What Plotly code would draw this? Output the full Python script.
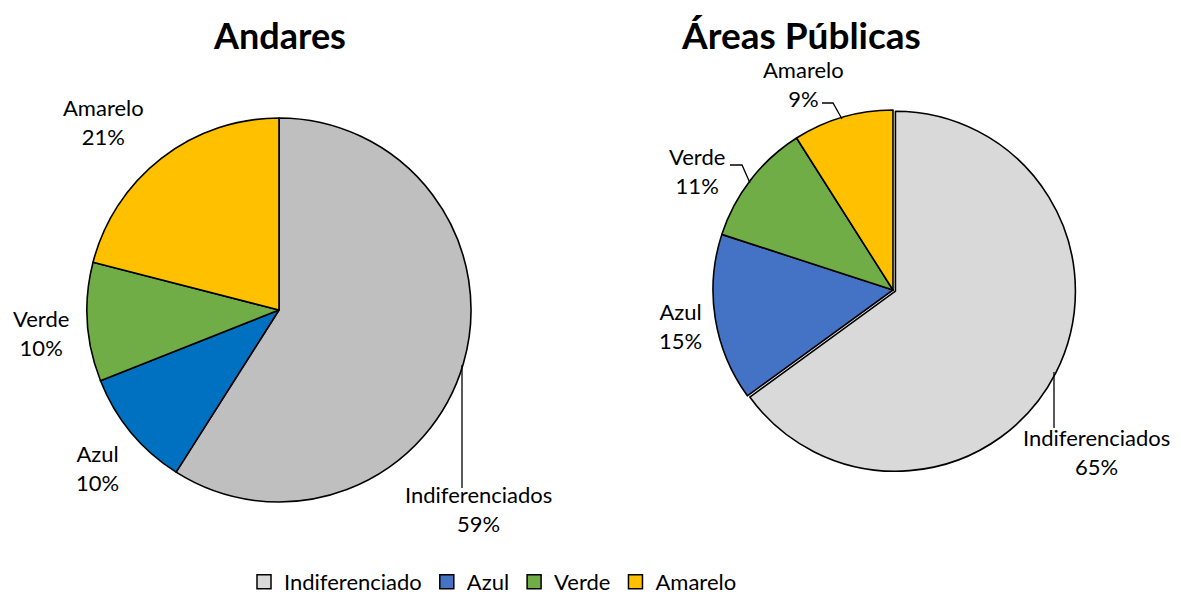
import plotly.graph_objects as go

W, H = 1181, 603

# ---- data ----
categories = ["Indiferenciados", "Azul", "Verde", "Amarelo"]
legend_names = ["Indiferenciado", "Azul", "Verde", "Amarelo"]
andares_values = [59, 10, 10, 21]
publicas_values = [65, 15, 11, 9]
titles = ["Andares", "Áreas Públicas"]

andares_colors = ["#BFBFBF", "#0070C0", "#70AD47", "#FFC000"]
publicas_colors = ["#D9D9D9", "#4472C4", "#70AD47", "#FFC000"]
legend_colors = ["#D9D9D9", "#4472C4", "#70AD47", "#FFC000"]

FONT = "Lato, Calibri, Carlito, sans-serif"


def px(x):
    return x / W


def py(y):
    return 1 - y / H


fig = go.Figure()

# left pie: center (279,310), r 192
cx, cy, r = 279, 310, 192
fig.add_trace(go.Pie(
    labels=categories, values=andares_values, sort=False, direction="clockwise",
    marker=dict(colors=andares_colors, line=dict(color="black", width=1.6)),
    textinfo="none", showlegend=False,
    domain=dict(x=[px(cx - r), px(cx + r)], y=[py(cy + r), py(cy - r)]),
))

# right pie: center (893,290), r 180, Indiferenciados pulled
cx2, cy2, r2 = 893, 290, 180
pull = 0.015
R2 = r2 * (1 + pull)
fig.add_trace(go.Pie(
    labels=categories, values=publicas_values, sort=False, direction="clockwise",
    pull=[pull, 0, 0, 0],
    marker=dict(colors=publicas_colors, line=dict(color="black", width=1.6)),
    textinfo="none", showlegend=False,
    domain=dict(x=[px(cx2 - R2), px(cx2 + R2)], y=[py(cy2 + R2), py(cy2 - R2)]),
))

# legend entries
for name, col in zip(legend_names, legend_colors):
    fig.add_trace(go.Scatter(
        x=[None], y=[None], mode="markers", name=name,
        marker=dict(symbol="square", size=14, color=col, line=dict(color="black", width=1.5)),
    ))

annotations = []
# titles
annotations.append(dict(x=px(279), y=py(35), text="<b>" + titles[0] + "</b>", showarrow=False,
                         xref="paper", yref="paper", xanchor="center", yanchor="middle",
                         font=dict(family=FONT, size=36, color="black")))
annotations.append(dict(x=px(801), y=py(35), text="<b>" + titles[1] + "</b>", showarrow=False,
                         xref="paper", yref="paper", xanchor="center", yanchor="middle",
                         font=dict(family=FONT, size=37, color="black")))

# data labels (text centre positions in pixels)
left_pos = {"Indiferenciados": (478, 509), "Azul": (97, 468), "Verde": (41, 333), "Amarelo": (103, 122)}
right_pos = {"Indiferenciados": (1096, 452), "Azul": (680, 326), "Verde": (697, 171), "Amarelo": (803, 84)}

for vals, pos in ((andares_values, left_pos), (publicas_values, right_pos)):
    tot = sum(vals)
    for cat, v in zip(categories, vals):
        x, y = pos[cat]
        annotations.append(dict(
            x=px(x), y=py(y), xref="paper", yref="paper", showarrow=False,
            xanchor="center", yanchor="middle",
            text=f"{cat}<br>{round(100 * v / tot)}%",
            font=dict(family=FONT, size=22, color="black"),
        ))

# leader lines
leaders = [
    [(462, 365), (462, 488)],
    [(1054, 372), (1054, 428)],
    [(822, 103), (833, 103), (842, 119)],
    [(730, 165), (742, 165), (750, 183)],
]
shapes = []
for pts in leaders:
    path = "M " + " L ".join(f"{px(x)},{py(y)}" for x, y in pts)
    shapes.append(dict(type="path", path=path, xref="paper", yref="paper",
                       line=dict(color="black", width=1.3)))

fig.update_layout(
    width=W, height=H,
    margin=dict(l=0, r=0, t=0, b=0, autoexpand=False),
    paper_bgcolor="white", plot_bgcolor="white",
    annotations=annotations, shapes=shapes,
    xaxis=dict(visible=False), yaxis=dict(visible=False),
    legend=dict(orientation="h", x=px(493), xanchor="center",
                yref="container", y=0, yanchor="bottom",
                font=dict(family=FONT, size=22, color="black"), itemwidth=30,
                traceorder="normal", tracegroupgap=0),
    font=dict(family=FONT),
)

fig.write_html(
    "out.html",
    config={"displayModeBar": False},
    post_script="document.body.style.margin='0';document.body.style.overflow='hidden';",
)
